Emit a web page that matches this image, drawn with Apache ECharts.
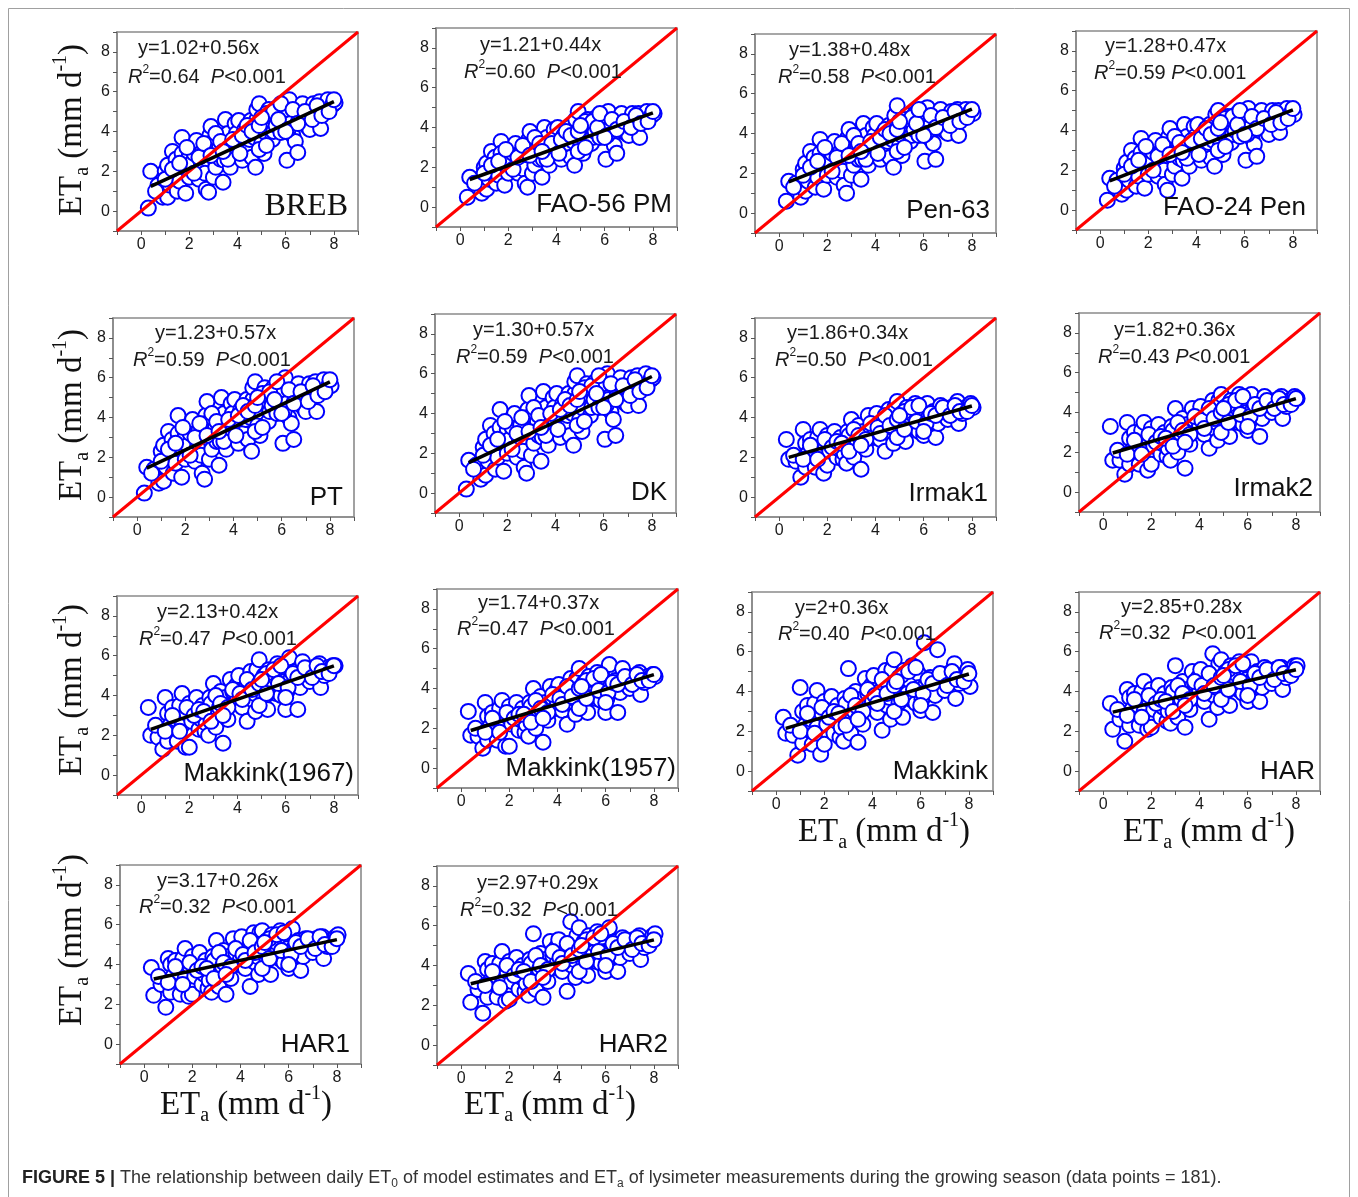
<!DOCTYPE html>
<html><head><meta charset="utf-8">
<script src="https://cdn.jsdelivr.net/npm/echarts@6/dist/echarts.min.js"></script>
<style>html,body{margin:0;padding:0;background:#fff}#c{width:1358px;height:1197px}</style>
</head><body><div id="c"></div>
<script>
// ---- data ----
const xObs = [0.3,0.4,0.7,0.9,1.0,1.1,1.1,1.2,1.3,1.45,
 1.5,1.6,1.7,1.7,1.85,1.9,2.0,2.0,2.1,2.2,
 2.3,2.4,2.5,2.55,2.65,2.7,2.8,2.85,2.9,3.0,
 3.0,3.1,3.25,3.3,3.4,3.45,3.5,3.5,3.6,3.7,
 3.8,3.9,3.95,4.0,4.05,4.2,4.3,4.4,4.5,4.55,
 4.6,4.7,4.75,4.8,4.8,4.9,5.0,5.1,5.1,5.25,
 5.3,5.4,5.45,5.5,5.6,5.65,5.8,5.9,5.95,6.0,
 6.05,6.15,6.2,6.3,6.4,6.5,6.55,6.6,6.7,6.9,
 6.95,7.0,7.15,7.25,7.4,7.45,7.6,7.75,7.95,8.05,
 0.6,1.0,1.3,1.6,1.9,2.2,2.4,2.6,2.9,3.1,
 3.3,3.6,3.8,4.1,4.2,4.4,4.6,4.9,4.9,5.2,
 5.2,5.5,5.7,5.8,6.1,6.3,6.5,6.8,7.1,7.3,
 7.5,7.8,8.0,5.0,3.4,6.0];
const yBREB = [0.15,2.0,1.3,0.7,2.0,0.7,2.3,1.3,3.0,2.6,
 1.0,1.5,3.7,2.9,0.9,2.2,1.7,2.8,2.4,2.9,
 3.55,1.6,2.3,3.0,1.9,1.1,0.95,3.8,4.25,1.7,
 3.5,2.2,3.2,2.6,1.45,2.55,4.6,3.3,3.9,2.2,
 2.9,4.4,3.9,3.3,4.55,2.55,4.1,3.0,3.6,4.55,
 2.7,3.7,2.2,4.6,5.1,5.4,3.4,2.9,4.0,4.6,
 5.1,4.75,3.6,4.0,4.3,5.2,3.95,4.9,4.6,5.1,
 2.55,5.6,4.4,3.8,3.5,2.95,4.6,5.1,5.4,4.25,
 4.85,4.1,5.4,5.0,5.5,4.15,5.2,5.6,5.35,5.45,
 1.0,1.6,2.1,2.4,3.2,1.9,2.7,3.4,2.8,3.9,
 3.5,2.6,3.6,2.9,3.8,4.3,4.0,3.1,4.3,3.3,
 4.9,5.0,4.6,5.4,4.1,5.1,4.4,5.0,4.6,5.3,
 4.8,5.0,5.6,4.7,3.0,4.0];
const yFAO56 = [0.5,1.5,1.2,0.7,2.0,0.9,2.2,1.4,2.8,2.5,
 1.2,1.6,3.3,2.7,1.1,2.1,1.7,2.6,2.3,2.7,
 3.2,1.7,2.2,2.8,1.9,1.2,1.0,3.4,3.8,1.7,
 3.2,2.1,2.9,2.4,1.5,2.4,4.0,3.0,3.5,2.1,
 2.7,3.9,3.5,3.0,4.0,2.4,3.6,2.8,3.2,4.0,
 2.5,3.3,2.1,4.0,4.4,4.8,3.1,2.7,3.5,4.0,
 4.4,4.1,3.2,3.5,3.8,4.5,3.5,4.3,4.0,4.4,
 2.4,4.8,3.9,3.4,3.1,2.7,4.0,4.4,4.7,3.7,
 4.2,3.6,4.7,4.3,4.7,3.5,4.5,4.8,4.6,4.7,
 1.2,1.7,2.1,2.3,2.9,1.9,2.5,3.1,2.6,3.5,
 3.2,2.4,3.2,2.7,3.4,3.8,3.6,2.8,3.8,3.0,
 4.3,4.3,4.0,4.7,3.6,4.4,3.9,4.3,4.0,4.6,
 4.2,4.3,4.8,4.1,2.8,3.5];
const yPen63 = [0.6,1.6,1.5,0.8,2.2,1.1,2.5,1.6,3.1,2.8,
 1.3,1.8,3.7,3.0,1.2,2.4,1.9,2.9,2.6,3.0,
 3.6,1.8,2.5,3.1,2.1,1.4,1.0,3.8,4.2,1.9,
 3.5,2.4,3.3,2.7,1.7,2.7,4.5,3.3,3.9,2.4,
 3.0,4.3,3.9,3.3,4.5,2.7,4.0,3.1,3.6,4.4,
 2.8,3.7,2.3,4.5,4.9,5.4,3.4,2.9,3.9,4.5,
 4.9,4.6,3.6,3.9,4.2,5.0,3.9,4.7,4.5,4.9,
 2.6,5.3,4.3,3.7,3.5,2.7,4.4,4.9,5.2,4.1,
 4.7,4.0,5.1,4.8,5.2,3.9,5.0,5.2,5.1,5.0,
 1.3,1.9,2.3,2.6,3.3,2.1,2.8,3.5,2.9,3.9,
 3.5,2.7,3.6,3.0,3.8,4.2,4.0,3.1,4.2,3.3,
 4.7,4.8,4.5,5.2,4.0,4.9,4.3,4.8,4.4,5.1,
 4.6,4.8,5.2,4.6,3.1,3.9];
const yFAO24 = [0.5,1.6,1.5,0.8,2.1,1.0,2.4,1.5,3.0,2.6,
 1.2,1.7,3.6,2.9,1.1,2.3,1.8,2.8,2.4,2.9,
 3.5,1.7,2.3,3.0,2.0,1.3,1.0,3.7,4.1,1.8,
 3.4,2.2,3.1,2.6,1.6,2.5,4.3,3.2,3.7,2.2,
 2.8,4.2,3.7,3.2,4.3,2.5,3.9,2.9,3.4,4.3,
 2.6,3.5,2.2,4.3,4.8,5.0,3.3,2.8,3.8,4.3,
 4.7,4.4,3.4,3.8,4.0,4.8,3.7,4.6,4.3,4.7,
 2.5,5.1,4.1,3.6,3.3,2.7,4.3,4.7,5.0,4.0,
 4.5,3.8,5.0,4.6,5.0,3.9,4.8,5.1,4.9,4.8,
 1.2,1.8,2.2,2.5,3.2,2.0,2.7,3.3,2.8,3.7,
 3.4,2.6,3.5,2.8,3.6,4.1,3.8,3.0,4.1,3.2,
 4.6,4.7,4.3,5.0,3.8,4.7,4.1,4.6,4.3,4.9,
 4.4,4.6,5.1,4.4,2.9,3.8];
const yPT = [0.2,1.5,1.4,0.7,2.3,0.8,2.6,1.5,3.3,2.9,
 1.2,1.7,4.1,3.2,1.0,2.4,1.9,3.1,2.6,3.2,
 3.9,1.8,2.5,3.3,2.1,1.2,0.9,4.1,4.8,1.9,
 3.8,2.4,3.5,2.8,1.6,2.8,5.0,3.6,4.2,2.4,
 3.1,4.7,4.2,3.6,4.9,2.7,4.4,3.2,3.9,4.9,
 2.9,4.0,2.3,4.9,5.5,5.8,3.6,3.1,4.3,4.9,
 5.5,5.1,3.8,4.3,4.6,5.5,4.2,5.2,4.9,5.4,
 2.7,6.0,4.7,4.0,3.7,2.9,4.9,5.4,5.7,4.5,
 5.1,4.3,5.7,5.3,5.8,4.3,5.5,5.9,5.6,5.6,
 1.2,1.8,2.4,2.7,3.5,2.1,3.0,3.7,3.1,4.2,
 3.8,2.8,3.9,3.1,4.1,4.6,4.3,3.3,4.6,3.5,
 5.2,5.3,4.9,5.8,4.3,5.4,4.7,5.3,4.8,5.6,
 5.1,5.3,5.9,5.0,3.3,4.2];
const yDK = [0.2,1.65,1.4,0.7,2.3,0.9,2.7,1.6,3.4,3.0,
 1.2,1.8,4.2,3.3,1.1,2.5,2.0,3.2,2.7,3.3,
 4.0,1.8,2.6,3.4,2.1,1.3,1.0,4.2,4.9,1.9,
 3.9,2.5,3.6,2.9,1.6,2.8,5.1,3.6,4.3,2.4,
 3.2,4.8,4.3,3.6,5.0,2.8,4.5,3.3,3.9,5.0,
 2.9,4.0,2.4,5.0,5.6,5.9,3.7,3.1,4.3,5.0,
 5.5,5.2,3.9,4.3,4.7,5.6,4.3,5.3,5.0,5.5,
 2.7,6.0,4.7,4.1,3.7,2.9,4.9,5.5,5.8,4.5,
 5.2,4.4,5.8,5.3,5.9,4.4,5.5,6.0,5.7,5.8,
 1.2,1.9,2.4,2.7,3.6,2.2,3.0,3.8,3.1,4.3,
 3.9,2.9,4.0,3.2,4.2,4.7,4.4,3.4,4.7,3.6,
 5.3,5.4,5.0,5.9,4.4,5.5,4.7,5.4,4.9,5.7,
 5.1,5.3,5.9,5.1,3.3,4.3];
const yIrmak1 = [2.9,1.9,1.8,1.0,3.4,1.5,2.7,2.2,2.9,2.4,
 1.5,3.0,3.4,2.1,1.2,2.7,1.6,3.1,2.3,2.8,
 3.3,2.0,2.4,3.0,1.9,2.2,1.7,3.3,3.1,3.9,
 2.5,2.0,2.8,3.6,1.4,2.6,3.3,3.0,2.4,4.1,
 3.5,3.0,3.8,3.3,4.2,2.9,3.6,2.3,3.7,4.4,
 3.2,3.5,2.7,4.0,4.5,4.8,3.6,3.3,4.2,2.8,
 4.5,4.0,3.7,4.2,3.5,4.7,3.3,4.4,3.9,3.1,
 3.5,4.7,4.0,3.8,4.3,3.0,4.2,3.7,4.6,4.3,
 4.1,3.9,4.5,4.2,4.8,3.7,4.2,4.5,4.7,4.5,
 2.1,1.9,2.6,1.9,2.9,2.5,2.8,2.7,2.3,3.4,
 3.1,2.9,3.7,3.5,3.2,4.1,3.6,3.0,3.9,3.4,
 4.3,4.5,3.8,4.6,3.7,4.2,4.1,4.5,4.1,4.6,
 4.3,4.3,4.6,4.1,2.6,3.3];
const yIrmak2 = [3.3,1.6,1.6,0.9,3.5,1.4,2.7,2.1,3.0,2.4,
 1.4,3.1,3.5,2.1,1.1,2.7,1.4,3.2,2.3,2.9,
 3.4,1.9,2.4,3.0,1.8,2.2,1.6,3.3,3.1,4.2,
 2.5,2.0,2.9,3.7,1.2,2.6,3.4,3.0,2.4,4.2,
 3.6,3.1,3.9,3.3,4.3,2.9,3.7,2.2,3.8,4.6,
 3.2,3.5,2.6,4.1,4.6,4.9,3.7,3.3,4.3,2.8,
 4.6,4.1,3.7,4.3,3.5,4.9,3.4,4.6,4.0,3.1,
 3.5,4.9,4.1,3.9,4.4,2.8,4.3,3.7,4.8,4.4,
 4.2,4.0,4.6,4.3,4.8,3.7,4.3,4.6,4.8,4.7,
 2.1,1.9,2.6,1.9,2.9,2.5,2.8,2.7,2.3,3.5,
 3.1,2.9,3.8,3.6,3.2,4.2,3.7,3.0,4.0,3.5,
 4.4,4.6,3.9,4.8,3.8,4.4,4.2,4.6,4.2,4.7,
 4.4,4.4,4.7,4.2,2.5,3.3];
const yMak1967 = [3.4,2.0,1.9,1.3,3.9,1.7,3.1,2.5,3.4,2.8,
 1.7,3.5,4.1,2.5,1.4,3.1,1.4,3.6,2.7,3.3,
 3.9,2.3,2.8,3.5,2.2,2.6,2.0,3.9,3.6,4.6,
 3.0,2.4,3.4,4.2,1.6,3.1,3.9,3.5,2.8,4.8,
 4.2,3.6,4.5,3.9,5.0,3.4,4.3,2.7,4.4,5.2,
 3.8,4.1,3.2,4.7,5.3,5.8,4.3,3.9,5.0,3.3,
 5.3,4.8,4.4,5.0,4.1,5.6,4.0,5.3,4.7,3.3,
 4.2,5.9,4.8,4.5,5.2,3.3,5.0,4.4,5.7,5.1,
 4.9,4.7,5.4,5.1,5.6,4.4,5.0,5.4,5.5,5.5,
 2.5,2.2,3.0,2.2,3.4,3.0,3.3,3.2,2.7,4.0,
 3.6,3.4,4.3,4.1,3.8,4.8,4.3,3.5,4.6,4.1,
 5.1,5.3,4.6,5.5,4.4,5.1,4.9,5.4,4.9,5.5,
 5.2,5.1,5.5,4.8,3.0,3.9];
const yMak1957 = [2.85,1.65,1.6,1.0,3.3,1.4,2.6,2.1,2.8,2.3,
 1.4,3.0,3.4,2.1,1.1,2.6,1.1,3.1,2.2,2.8,
 3.3,1.9,2.4,3.0,1.8,2.2,1.6,3.3,3.1,4.0,
 2.5,2.0,2.8,3.6,1.3,2.6,3.3,3.0,2.4,4.1,
 3.5,3.0,3.9,3.3,4.2,2.9,3.7,2.2,3.7,4.5,
 3.2,3.5,2.7,4.0,4.5,5.0,3.7,3.3,4.3,2.8,
 4.6,4.1,3.7,4.2,3.5,4.8,3.4,4.5,4.0,2.8,
 3.5,5.2,4.1,3.9,4.4,2.8,4.3,3.8,5.0,4.4,
 4.2,4.0,4.6,4.3,4.8,3.7,4.3,4.6,4.7,4.6,
 2.0,1.8,2.5,1.8,2.8,2.5,2.7,2.7,2.3,3.4,
 3.0,2.8,3.7,3.5,3.2,4.1,3.6,3.0,4.0,3.5,
 4.4,4.5,3.9,4.7,3.8,4.3,4.2,4.6,4.2,4.7,
 4.4,4.4,4.7,4.1,2.5,3.3];
const yMakkink = [2.7,1.9,1.8,0.8,4.2,1.4,3.0,2.3,3.3,2.6,
 1.35,3.4,4.05,2.2,0.85,2.9,1.35,3.5,2.35,3.1,
 3.75,1.9,2.5,3.3,1.7,2.2,1.5,3.65,3.4,5.15,
 2.6,1.9,3.0,4.0,1.45,2.7,3.6,3.2,2.35,4.65,
 3.9,3.2,4.3,3.5,4.8,2.95,4.0,2.05,4.05,5.05,
 3.3,3.7,2.6,4.4,5.1,5.6,3.9,3.45,4.7,2.7,
 5.05,4.4,3.9,4.6,3.6,5.3,3.4,4.9,4.2,3.05,
 3.6,6.45,4.3,4.0,4.7,2.95,4.5,3.8,6.1,4.6,
 4.3,4.05,4.9,4.5,5.4,3.65,4.4,4.8,5.1,4.25,
 2.3,2.0,2.9,1.9,3.2,2.7,3.0,2.9,2.3,3.8,
 3.3,3.0,4.1,3.8,3.4,4.6,3.9,3.0,4.3,3.6,
 4.8,5.0,4.1,5.2,3.9,4.6,4.4,4.9,4.3,5.0,
 4.6,4.5,4.9,4.5,2.6,3.3];
const yHAR = [3.4,2.1,2.6,1.5,4.1,2.3,3.7,3.1,3.9,3.3,
 2.3,4.0,4.5,3.0,2.1,3.6,2.2,4.1,3.1,3.7,
 4.3,2.7,3.2,3.9,2.5,3.0,2.4,4.2,4.0,5.3,
 3.3,2.7,3.6,4.5,2.2,3.4,4.1,3.8,3.1,5.0,
 4.4,3.8,4.7,4.0,5.1,3.5,4.4,2.6,4.5,5.9,
 3.8,4.2,3.2,4.8,5.4,5.6,4.3,4.0,5.0,3.3,
 5.3,4.8,4.3,4.9,4.1,5.5,3.9,5.2,4.6,3.5,
 4.1,5.5,4.6,4.4,5.0,3.5,4.8,4.2,5.2,4.9,
 4.6,4.4,5.1,4.8,5.2,4.1,4.7,5.0,5.3,5.3,
 3.1,2.8,3.6,2.7,3.8,3.4,3.6,3.5,3.0,4.3,
 3.9,3.6,4.5,4.3,3.9,4.9,4.3,3.6,4.7,4.1,
 5.1,5.3,4.5,5.4,4.3,4.9,4.7,5.1,4.6,5.2,
 4.9,4.8,5.1,4.8,3.3,3.8];
const yHAR1 = [3.85,2.45,3.0,1.85,4.3,2.6,4.0,3.4,4.2,3.6,
 2.5,4.3,4.8,3.3,2.4,3.9,2.5,4.4,3.4,4.0,
 4.6,3.0,3.5,4.2,2.8,3.2,2.6,4.4,4.2,5.2,
 3.5,2.9,3.9,4.7,2.5,3.6,4.4,4.0,3.3,5.3,
 4.6,4.0,4.9,4.3,5.4,3.8,4.7,2.9,4.7,5.6,
 4.1,4.4,3.5,5.0,5.6,5.7,4.6,4.2,5.2,3.5,
 5.5,5.0,4.5,5.1,4.3,5.7,4.1,5.4,4.8,3.8,
 4.2,5.8,4.8,4.6,5.2,3.7,5.0,4.4,5.3,5.1,
 4.8,4.6,5.3,5.0,5.4,4.3,4.9,5.2,5.4,5.5,
 3.4,3.1,3.9,3.0,4.1,3.7,3.9,3.8,3.3,4.6,
 4.1,3.9,4.8,4.5,4.2,5.2,4.6,3.8,4.9,4.3,
 5.3,5.5,4.7,5.6,4.5,5.1,4.9,5.3,4.8,5.4,
 5.0,4.9,5.3,5.1,3.5,4.0];
const yHAR2 = [3.6,2.15,2.8,1.6,4.2,2.4,3.8,3.2,4.1,3.5,
 2.4,4.1,4.7,3.1,2.2,3.7,2.3,4.2,3.2,3.9,
 4.4,2.8,3.4,4.0,2.7,3.1,2.5,4.3,4.1,5.6,
 3.4,2.8,3.8,4.6,2.4,3.5,4.3,3.9,3.2,5.2,
 4.5,3.9,4.9,4.2,5.3,3.7,4.6,2.7,4.6,6.2,
 4.0,4.3,3.4,4.9,5.5,5.9,4.5,4.1,5.2,3.5,
 5.5,4.9,4.5,5.1,4.2,5.7,4.1,5.3,4.7,3.7,
 4.2,5.9,4.8,4.6,5.2,3.7,5.0,4.4,5.4,5.1,
 4.8,4.6,5.3,5.0,5.5,4.3,4.9,5.2,5.5,5.6,
 3.2,3.0,3.7,2.9,4.0,3.5,3.8,3.7,3.2,4.5,
 4.0,3.8,4.7,4.4,4.1,5.1,4.5,3.7,4.8,4.2,
 5.3,5.4,4.7,5.6,4.5,5.1,4.9,5.3,4.8,5.4,
 5.1,5.0,5.3,5.0,3.4,4.0];

const modelNames = ['BREB','FAO-56 PM','Pen-63','FAO-24 Pen','PT','DK','Irmak1','Irmak2',
  'Makkink(1967)','Makkink(1957)','Makkink','HAR','HAR1','HAR2'];
const modelY = [yBREB,yFAO56,yPen63,yFAO24,yPT,yDK,yIrmak1,yIrmak2,yMak1967,yMak1957,yMakkink,yHAR,yHAR1,yHAR2];
const intercepts = [1.02,1.21,1.38,1.28,1.23,1.30,1.86,1.82,2.13,1.74,2,2.85,3.17,2.97];
const slopes     = [0.56,0.44,0.48,0.47,0.57,0.57,0.34,0.36,0.42,0.37,0.36,0.28,0.26,0.29];
const eqTexts = ['y=1.02+0.56x','y=1.21+0.44x','y=1.38+0.48x','y=1.28+0.47x','y=1.23+0.57x','y=1.30+0.57x',
  'y=1.86+0.34x','y=1.82+0.36x','y=2.13+0.42x','y=1.74+0.37x','y=2+0.36x','y=2.85+0.28x','y=3.17+0.26x','y=2.97+0.29x'];
const r2Values = ['0.64','0.60','0.58','0.59','0.59','0.59','0.50','0.43','0.47','0.47','0.40','0.32','0.32','0.32'];
const fitRange = [0.4, 8.0];
const axisRange = [-1, 9];
const tickLabels = [0, 2, 4, 6, 8];

// ---- layout (pixels) ----
const GW = 241, GH = 199;
const gridPos = [[117,32],[436,28],[755,34],[1076,31],[113,318],[435,314],[755,318],[1079,313],
  [117,596],[437,589],[752,592],[1079,592],[120,865],[437,866]];
const eqPos = [[138,48],[480,45],[789,50],[1105,46],[155,333],[473,330],[787,333],[1114,330],
  [157,612],[478,603],[795,608],[1121,607],[157,881],[477,883]];
const r2Pos = [[128,77],[464,72],[778,77],[1094,73],[133,360],[456,357],[775,360],[1098,357],
  [139,639],[457,629],[778,634],[1099,633],[139,907],[460,910]];
const r2Gap = ['  ','  ','  ',' ','  ','  ','  ',' ','  ','  ','  ','  ','  ','  '];
const namePos = [[348,207],[672,205],[990,211],[1306,208],[343,498],[667,493],[988,494],[1313,489],
  [354,774],[676,769],[988,772],[1315,772],[350,1045],[668,1045]];
const yTitlePos = [[72,130],[72,415],[72,690],[72,940]];
const xTitlePos = [[884,832],[1209,832],[246,1105],[550,1105]];

const SANS = '"Liberation Sans", Arial, sans-serif';
const SERIF = '"Liberation Serif", "Times New Roman", serif';

const grids = [], xAxes = [], yAxes = [], series = [], graphics = [];
const labelFmt = v => (tickLabels.indexOf(v) >= 0 ? String(v) : '');

modelNames.forEach((name, i) => {
  grids.push({left: gridPos[i][0], top: gridPos[i][1], width: GW, height: GH, show: true,
    borderColor: '#8a8a8a', borderWidth: 1.6, backgroundColor: 'transparent'});
  const common = {
    type: 'value', gridIndex: i, min: axisRange[0], max: axisRange[1], interval: 1,
    splitLine: {show: false},
    axisLine: {show: true, onZero: false, lineStyle: {color: '#8a8a8a', width: 1.6}},
    axisTick: {show: true, length: 4, lineStyle: {color: '#555', width: 1}},
    axisLabel: {formatter: labelFmt, fontSize: 16, color: '#1a1a1a', fontFamily: SANS,
      showMinLabel: true, showMaxLabel: true}
  };
  xAxes.push(Object.assign({}, common, {axisLabel: Object.assign({}, common.axisLabel, {margin: 6})}));
  yAxes.push(Object.assign({}, common, {axisLabel: Object.assign({}, common.axisLabel, {margin: 7})}));

  series.push({
    type: 'scatter', xAxisIndex: i, yAxisIndex: i, z: 2,
    data: xObs.map((x, k) => [x, modelY[i][k]]),
    symbol: 'circle', symbolSize: 15,
    itemStyle: {color: '#ffffff', borderColor: '#0000ff', borderWidth: 2, opacity: 1},
    silent: true
  });
  series.push({
    type: 'line', xAxisIndex: i, yAxisIndex: i, z: 3,
    data: [[axisRange[0], axisRange[0]], [axisRange[1], axisRange[1]]],
    showSymbol: false, symbol: 'none', lineStyle: {color: '#ff0000', width: 3}, silent: true
  });
  series.push({
    type: 'line', xAxisIndex: i, yAxisIndex: i, z: 4,
    data: fitRange.map(x => [x, intercepts[i] + slopes[i] * x]),
    showSymbol: false, symbol: 'none', lineStyle: {color: '#000000', width: 3.5}, silent: true
  });

  graphics.push({type: 'text', x: eqPos[i][0], y: eqPos[i][1], z: 10,
    style: {text: eqTexts[i], font: '20px ' + SANS, fill: '#1a1a1a',
      align: 'left', verticalAlign: 'middle', textAlign: 'left', textVerticalAlign: 'middle'}});
  graphics.push({type: 'text', x: r2Pos[i][0], y: r2Pos[i][1], z: 10,
    style: {text: '{i|R}{s|2}{n|=' + r2Values[i] + r2Gap[i] + '}{i|P}{n|<0.001}',
      align: 'left', verticalAlign: 'middle', textAlign: 'left', textVerticalAlign: 'middle',
      rich: {
        n: {fontSize: 20, fontFamily: SANS, fill: '#1a1a1a', lineHeight: 26, verticalAlign: 'middle'},
        i: {fontSize: 20, fontFamily: SANS, fontStyle: 'italic', fill: '#1a1a1a', lineHeight: 26, verticalAlign: 'middle'},
        s: {fontSize: 12, fontFamily: SANS, fill: '#1a1a1a', lineHeight: 14, verticalAlign: 'top'}
      }}});
  const isSerif = name === 'BREB';
  graphics.push({type: 'text', x: namePos[i][0], y: namePos[i][1], z: 10,
    style: {text: name, font: isSerif ? ('32px ' + SERIF) : ('26px ' + SANS), fill: '#111',
      align: 'right', verticalAlign: 'middle', textAlign: 'right', textVerticalAlign: 'middle'}});
});

const etRich = {
  m: {fontSize: 33, fontFamily: SERIF, fill: '#111', lineHeight: 42, verticalAlign: 'middle'},
  b: {fontSize: 20, fontFamily: SERIF, fill: '#111', lineHeight: 18, verticalAlign: 'bottom'},
  t: {fontSize: 20, fontFamily: SERIF, fill: '#111', lineHeight: 22, verticalAlign: 'top'}
};
const etText = '{m|ET}{b|a}{m| (mm d}{t|-1}{m|)}';
yTitlePos.forEach(p => graphics.push({type: 'text', x: p[0], y: p[1], rotation: Math.PI / 2, z: 10,
  style: {text: etText, rich: etRich, align: 'center', verticalAlign: 'middle', textAlign: 'center', textVerticalAlign: 'middle'}}));
xTitlePos.forEach(p => graphics.push({type: 'text', x: p[0], y: p[1], z: 10,
  style: {text: etText, rich: etRich, align: 'center', verticalAlign: 'middle', textAlign: 'center', textVerticalAlign: 'middle'}}));

// outer frame + caption
graphics.push({type: 'rect', z: 0, shape: {x: 8.5, y: 8.5, width: 1341, height: 1200},
  style: {fill: 'none', stroke: '#a0a0a0', lineWidth: 1}});
graphics.push({type: 'text', x: 22, y: 1178, z: 10,
  style: {text: '{b|FIGURE 5 |}{n| The relationship between daily ET}{s|0}{n| of model estimates and ET}{s|a}{n| of lysimeter measurements during the growing season (data points = 181).}',
    align: 'left', verticalAlign: 'middle', textAlign: 'left', textVerticalAlign: 'middle',
    rich: {
      b: {fontSize: 18, fontFamily: SANS, fontWeight: 'bold', fill: '#222', lineHeight: 24, verticalAlign: 'middle'},
      n: {fontSize: 18, fontFamily: SANS, fill: '#333', lineHeight: 24, verticalAlign: 'middle'},
      s: {fontSize: 12, fontFamily: SANS, fill: '#333', lineHeight: 12, verticalAlign: 'bottom'}
    }}});

const chart = echarts.init(document.getElementById('c'), null, {renderer: 'canvas', width: 1358, height: 1197});
chart.setOption({
  animation: false,
  backgroundColor: '#ffffff',
  grid: grids, xAxis: xAxes, yAxis: yAxes, series: series, graphic: graphics
});
</script>
</body></html>
